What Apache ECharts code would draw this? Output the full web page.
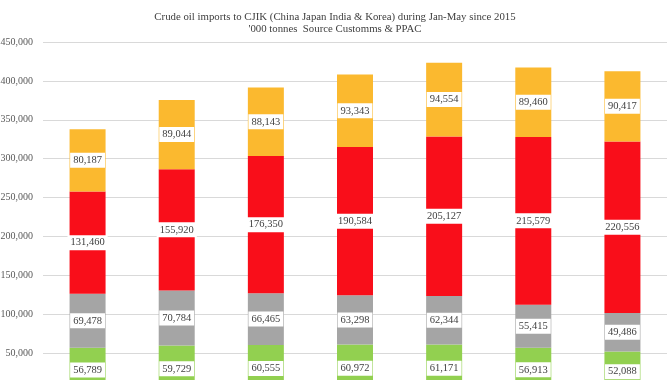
<!DOCTYPE html>
<html>
<head>
<meta charset="utf-8">
<script src="https://cdn.jsdelivr.net/npm/echarts@6/dist/echarts.min.js"></script>
<style>html,body{margin:0;padding:0;background:#fff}#c{width:670px;height:380px}</style>
</head>
<body>
<div id="c"></div>
<script>
const categories = ['2015', '2016', '2017', '2018', '2019', '2020', '2021'];
const seriesNames = ['Korea', 'Japan', 'China', 'India'];
const green = [56789, 59729, 60555, 60972, 61171, 56913, 52088];
const gray = [69478, 70784, 66465, 63298, 62344, 55415, 49486];
const red = [131460, 155920, 176350, 190584, 205127, 215579, 220556];
const yellow = [80187, 89044, 88143, 93343, 94554, 89460, 90417];
const titleText = "Crude oil imports to CJIK (China Japan India & Korea) during Jan-May since 2015\n'000 tonnes  Source Customms & PPAC";

const fmt = v => String(v).replace(/\B(?=(\d{3})+(?!\d))/g, ',');
const colors = ['#92d050', '#a5a5a5', '#f90e1a', '#fbb92f'];
const dataSets = [green, gray, red, yellow];

const chart = echarts.init(document.getElementById('c'));
chart.setOption({
  animation: false,
  title: {
    text: titleText,
    left: 'center',
    top: 6,
    textStyle: {fontFamily: 'Liberation Serif', fontSize: 10.8, fontWeight: 'normal', color: '#404040', lineHeight: 12}
  },
  grid: {left: 43, top: 42, width: 624, height: 350, outerBoundsMode: 'none', containLabel: false},
  xAxis: {
    type: 'category', data: categories,
    axisLine: {show: false}, axisTick: {show: false}, axisLabel: {show: false}
  },
  yAxis: {
    type: 'value', min: 0, max: 450000, interval: 50000,
    axisLabel: {formatter: v => fmt(v), fontFamily: 'Liberation Serif', fontSize: 10, color: '#595959', margin: 10},
    splitLine: {lineStyle: {color: '#d9d9d9', width: 1}},
    axisLine: {show: false}, axisTick: {show: false}
  },
  series: dataSets.map((d, i) => ({
    name: seriesNames[i],
    type: 'bar',
    stack: 'total',
    barWidth: 36,
    data: d,
    itemStyle: {color: colors[i]},
    label: {
      show: true, position: 'inside',
      formatter: p => fmt(p.value),
      backgroundColor: '#fff',
      padding: [2, 3],
      fontFamily: 'Liberation Serif', fontSize: 10.5, color: '#404040'
    }
  }))
});
</script>
</body>
</html>
